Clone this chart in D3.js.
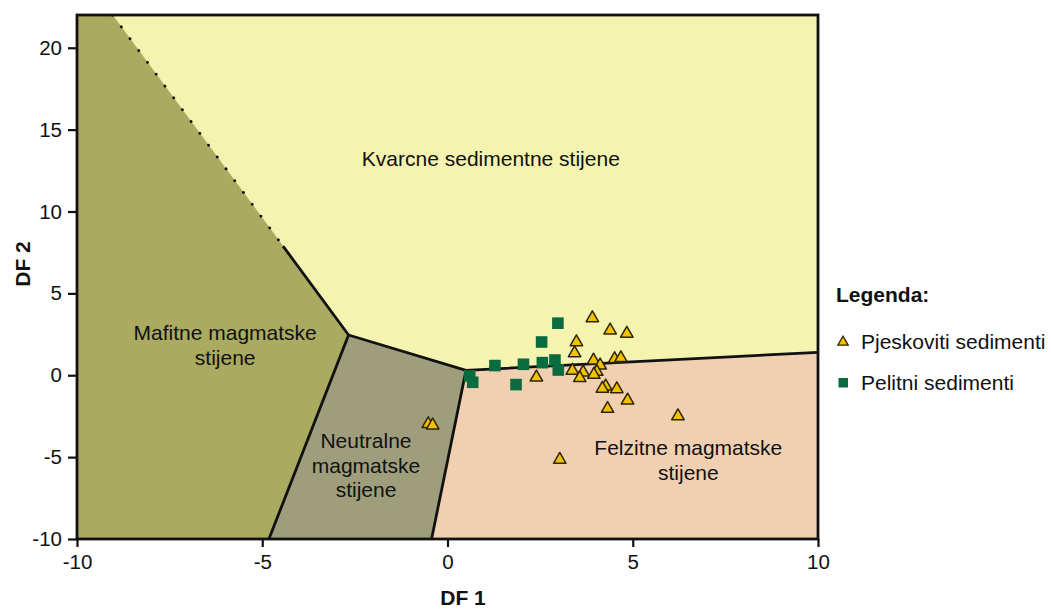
<!DOCTYPE html>
<html><head><meta charset="utf-8">
<script src="https://cdn.jsdelivr.net/npm/d3@7"></script>
<style>
html,body{margin:0;padding:0;background:#fff;}
text{font-family:"Liberation Sans",Arial,sans-serif;fill:#111;}
</style></head>
<body>
<svg id="c" width="1051" height="610"></svg>
<script>
// ---- data ----
const xTicks = [-10, -5, 0, 5, 10];
const yTicks = [-10, -5, 0, 5, 10, 15, 20];
const xTickLabels = ["-10","-5","0","5","10"];
const yTickLabels = ["-10","-5","0","5","10","15","20"];

const quartzRegion = [[-9.04,22],[-2.67,2.46],[0.5,0.3],[10,1.4],[10,22]];
const maficRegion = [[-10,22],[-9.04,22],[-2.67,2.46],[-4.82,-10],[-10,-10]];
const neutralRegion = [[-2.67,2.46],[0.5,0.3],[-0.43,-10],[-4.82,-10]];
const felsicRegion = [[0.5,0.3],[10,1.4],[10,-10],[-0.43,-10]];

const dottedBoundary = [[-9.04,22],[-4.44,7.89]];
const solidBoundaries = [
  [[-4.44,7.89],[-2.67,2.46]],
  [[-2.67,2.46],[0.5,0.3],[10,1.4]],
  [[-2.67,2.46],[-4.82,-10]],
  [[0.5,0.3],[-0.43,-10]]
];

const sandX = [3.91,4.39,4.84,3.48,3.43,3.94,4.12,4.51,4.68,3.37,3.66,4.03,3.95,3.57,4.27,4.18,4.57,4.86,4.32,2.40,6.22,3.03,-0.52,-0.40];
const sandY = [3.58,2.83,2.63,2.11,1.44,0.99,0.69,1.08,1.14,0.37,0.26,0.30,0.12,-0.08,-0.59,-0.73,-0.76,-1.45,-1.96,-0.04,-2.41,-5.07,-2.89,-2.97];

const peliteX = [2.98,2.54,1.28,2.05,2.56,2.90,2.99,0.60,0.68,1.85];
const peliteY = [3.18,2.03,0.59,0.67,0.77,0.93,0.32,-0.04,-0.43,-0.57];

const regionLabels = [
  {lines:["Kvarcne sedimentne stijene"], x:1.17, y:13.25},
  {lines:["Mafitne magmatske","stijene"], x:-6.0, y:1.85},
  {lines:["Neutralne","magmatske","stijene"], x:-2.2, y:-5.5},
  {lines:["Felzitne magmatske","stijene"], x:6.5, y:-5.2}
];
const legendTitle = "Legenda:";
const legendItems = ["Pjeskoviti sedimenti","Pelitni sedimenti"];

// ---- drawing ----
const svg = d3.select("#c");
const x = d3.scaleLinear().domain([-10,10]).range([77,818]);
const y = d3.scaleLinear().domain([-10,22]).range([539,15]);
const line = d3.line().x(d=>x(d[0])).y(d=>y(d[1]));

svg.append("defs").append("clipPath").attr("id","clip")
  .append("rect").attr("x",77).attr("y",15).attr("width",741).attr("height",524);

const g = svg.append("g").attr("clip-path","url(#clip)");
const regions = [
  [quartzRegion,"#f4f4b0"],
  [maficRegion,"#aaaa60"],
  [neutralRegion,"#9e9e7c"],
  [felsicRegion,"#f0d0b0"]
];
regions.forEach(([r,c])=>{
  g.append("path").attr("d", line(r)+"Z").attr("fill",c).attr("stroke",c).attr("stroke-width",0.5);
});

g.append("path").attr("d", line(dottedBoundary)).attr("fill","none")
  .attr("stroke","#111").attr("stroke-width",2.8).attr("stroke-linecap","round")
  .attr("stroke-dasharray","0.1 14.6");
solidBoundaries.forEach(b=>{
  g.append("path").attr("d", line(b)).attr("fill","none")
    .attr("stroke","#111").attr("stroke-width",2.8).attr("stroke-linejoin","round");
});

// region labels
regionLabels.forEach(l=>{
  const t = svg.append("text").attr("text-anchor","middle").attr("font-size",21);
  const n = l.lines.length;
  l.lines.forEach((s,i)=>{
    t.append("tspan").attr("x",x(l.x))
      .attr("y", y(l.y) + (i-(n-1)/2)*24.5 + 7.3).text(s);
  });
});

// points
const tri = "M0,-5.8L6.2,5L-6.2,5Z";
sandX.forEach((v,i)=>{
  g.append("path").attr("d",tri)
    .attr("transform",`translate(${x(v)},${y(sandY[i])})`)
    .attr("fill","#f2c200").attr("stroke","#2e2500").attr("stroke-width",1.5).attr("stroke-linejoin","round");
});
peliteX.forEach((v,i)=>{
  g.append("rect").attr("x",x(v)-5.8).attr("y",y(peliteY[i])-5.8)
    .attr("width",11.6).attr("height",11.6).attr("fill","#0b6b40");
});

// frame
svg.append("rect").attr("x",77).attr("y",15).attr("width",741).attr("height",524)
  .attr("fill","none").attr("stroke","#111").attr("stroke-width",2.8);

// axes
const xa = svg.append("g").attr("transform","translate(0,539)")
  .call(d3.axisBottom(x).tickValues(xTicks).tickFormat((d,i)=>xTickLabels[i])
    .tickSize(8).tickSizeOuter(0).tickPadding(7));
const ya = svg.append("g").attr("transform","translate(77,0)")
  .call(d3.axisLeft(y).tickValues(yTicks).tickFormat((d,i)=>yTickLabels[i])
    .tickSize(9).tickSizeOuter(0).tickPadding(6));
[xa,ya].forEach(a=>{
  a.select(".domain").remove();
  a.selectAll("line").attr("stroke","#111").attr("stroke-width",2.2);
  a.selectAll("text").attr("font-size",20.5).attr("fill","#111")
    .style("font-family","'Liberation Sans',Arial,sans-serif");
});

svg.append("text").attr("x",463).attr("y",605).attr("text-anchor","middle")
  .attr("font-size",21).attr("font-weight","bold").text("DF 1");
svg.append("text").attr("transform","translate(30,264) rotate(-90)").attr("text-anchor","middle")
  .attr("font-size",21).attr("font-weight","bold").text("DF 2");

// legend
svg.append("text").attr("x",836).attr("y",302).attr("font-size",21).attr("font-weight","bold").text(legendTitle);
svg.append("path").attr("d","M0,-4.8L5.2,4.2L-5.2,4.2Z").attr("transform","translate(843,341)")
  .attr("fill","#f2c200").attr("stroke","#2e2500").attr("stroke-width",1.3);
svg.append("text").attr("x",861).attr("y",349).attr("font-size",21).text(legendItems[0]);
svg.append("rect").attr("x",838.5).attr("y",378).attr("width",9.5).attr("height",9.5).attr("fill","#0b6b40");
svg.append("text").attr("x",861).attr("y",390).attr("font-size",21).text(legendItems[1]);
</script>
</body></html>
